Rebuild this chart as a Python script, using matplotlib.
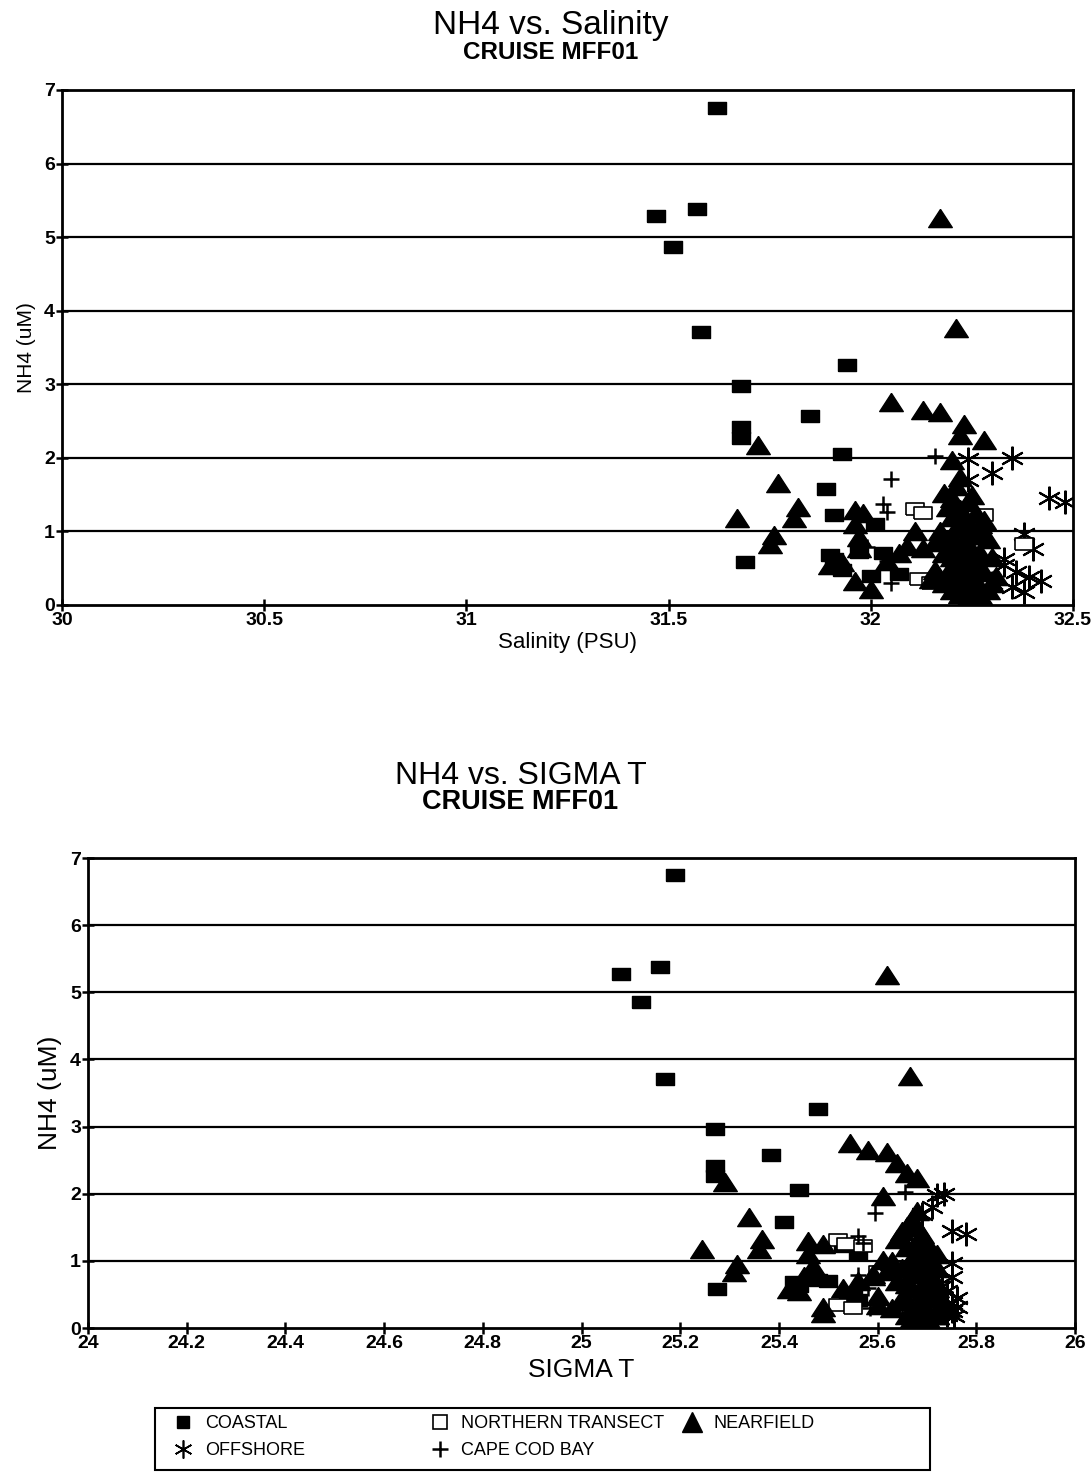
import matplotlib
matplotlib.use("Agg")
import matplotlib.pyplot as plt
from matplotlib.lines import Line2D
from matplotlib.patches import Rectangle

FONT = ['Liberation Sans Narrow', 'Liberation Sans', 'DejaVu Sans']
plt.rcParams['font.family'] = FONT

# ---- data: (salinity PSU, sigma-t, NH4 uM) for each station group ----
coastal_sal = [31.62, 31.47, 31.57, 31.51, 31.58, 31.68, 31.68, 31.68, 31.85, 31.94, 31.93,
               31.89, 31.91, 31.69, 31.90, 31.91, 31.93, 31.97, 32.01, 32.00, 32.03, 32.07]
coastal_sig = [25.19, 25.08, 25.16, 25.12, 25.17, 25.27, 25.27, 25.27, 25.385, 25.48, 25.44,
               25.41, 25.53, 25.275, 25.43, 25.44, 25.55, 25.48, 25.56, 25.54, 25.50, 25.56]
coastal_nh4 = [6.75, 5.28, 5.38, 4.86, 3.71, 2.97, 2.42, 2.27, 2.57, 3.26, 2.05,
               1.58, 1.22, 0.58, 0.68, 0.62, 0.48, 0.72, 1.10, 0.40, 0.70, 0.42]

northern_sal = [32.11, 32.13, 32.28, 32.38, 32.12, 32.15]
northern_sig = [25.52, 25.535, 25.57, 25.60, 25.52, 25.55]
northern_nh4 = [1.31, 1.25, 1.22, 0.83, 0.35, 0.30]

offshore_sal = [32.24, 32.35, 32.30, 32.24, 32.44, 32.48, 32.38, 32.40, 32.33, 32.36, 32.39,
                32.42, 32.30, 32.35, 32.27, 32.33, 32.38]
offshore_sig = [25.72, 25.735, 25.71, 25.69, 25.75, 25.78, 25.75, 25.75, 25.74, 25.76, 25.75,
                25.76, 25.73, 25.75, 25.74, 25.73, 25.755]
offshore_nh4 = [1.98, 2.00, 1.80, 1.70, 1.45, 1.40, 0.97, 0.76, 0.55, 0.45, 0.38,
                0.32, 0.30, 0.25, 0.20, 0.62, 0.18]

capecod_sal = [32.16, 32.05, 32.03, 32.04, 31.99, 32.05, 32.04, 32.20]
capecod_sig = [25.655, 25.595, 25.56, 25.57, 25.56, 25.585, 25.58, 25.65]
capecod_nh4 = [2.02, 1.71, 1.37, 1.26, 0.79, 0.30, 0.60, 0.20]

nearfield_sal = [32.17, 32.21, 32.05, 32.13, 32.17, 32.23, 32.22, 32.28, 31.72, 32.20, 31.77,
                 31.82, 31.81, 31.67, 31.76, 31.75, 32.22,
                 31.96, 31.98, 31.96, 31.97, 31.97, 31.93, 31.90, 31.96, 32.00, 32.04, 32.07,
                 32.09, 32.11, 32.13, 32.16, 32.15, 32.18, 32.19, 32.21, 32.20,
                 32.20, 32.22, 32.24, 32.26, 32.28, 32.21, 32.23, 32.25, 32.27, 32.29, 32.19,
                 32.21, 32.23, 32.25, 32.27, 32.30, 32.18, 32.20, 32.22, 32.24, 32.26, 32.28,
                 32.31, 32.19, 32.21, 32.23, 32.25, 32.27, 32.29, 32.20, 32.22, 32.24, 32.26,
                 32.28, 32.23, 32.25, 32.27, 32.24, 32.26, 32.22, 32.30, 32.24, 32.18, 32.17,
                 32.16]
nearfield_sig = [25.62, 25.665, 25.545, 25.58, 25.62, 25.64, 25.66, 25.68, 25.29, 25.61, 25.34,
                 25.365, 25.36, 25.245, 25.315, 25.31, 25.68,
                 25.46, 25.49, 25.46, 25.47, 25.45, 25.42, 25.44, 25.49, 25.49, 25.53, 25.56,
                 25.59, 25.61, 25.59, 25.60, 25.60, 25.66, 25.64, 25.67, 25.65,
                 25.66, 25.68, 25.69, 25.70, 25.71, 25.67, 25.68, 25.69, 25.70, 25.72, 25.65,
                 25.67, 25.68, 25.70, 25.71, 25.72, 25.64, 25.66, 25.67, 25.69, 25.70, 25.71,
                 25.73, 25.65, 25.66, 25.68, 25.69, 25.70, 25.72, 25.66, 25.67, 25.68, 25.70,
                 25.71, 25.70, 25.68, 25.72, 25.71, 25.72, 25.70, 25.74, 25.72, 25.63, 25.63,
                 25.62]
nearfield_nh4 = [5.26, 3.76, 2.76, 2.65, 2.62, 2.46, 2.31, 2.24, 2.17, 1.97, 1.66,
                 1.33, 1.18, 1.18, 0.95, 0.83, 1.74,
                 1.29, 1.25, 1.10, 0.92, 0.78, 0.58, 0.55, 0.32, 0.22, 0.60, 0.70,
                 0.80, 1.01, 0.77, 0.48, 0.35, 1.52, 1.33, 1.62, 1.45,
                 1.20, 1.30, 1.40, 1.25, 1.15, 1.05, 1.10, 1.00, 0.95, 0.90, 0.90,
                 0.85, 0.80, 0.75, 0.70, 0.65, 0.70, 0.65, 0.60, 0.55, 0.50, 0.45,
                 0.40, 0.45, 0.40, 0.35, 0.30, 0.25, 0.20, 0.20, 0.15, 0.10, 0.12,
                 0.05, 1.20, 1.50, 1.10, 0.95, 0.60, 0.50, 0.30, 0.20, 0.30, 1.00,
                 0.85]

labels = ['COASTAL', 'OFFSHORE', 'NORTHERN TRANSECT', 'CAPE COD BAY', 'NEARFIELD']

# marker shapes: wide filled rectangle, flat triangle, 6-arm asterisk
RECT = [(-1.5, -1), (1.5, -1), (1.5, 1), (-1.5, 1), (-1.5, -1)]
TRI = [(0, 1), (-1.3, -1), (1.3, -1), (0, 1)]
ASTER = (6, 2, 0)


def draw_groups(ax, key):
    groups = [
        (coastal_sal, coastal_sig, coastal_nh4, dict(marker=RECT, ms=13, mfc='black', mec='black')),
        (offshore_sal, offshore_sig, offshore_nh4, dict(marker=ASTER, ms=17, mec='black', mew=1.5)),
        (northern_sal, northern_sig, northern_nh4, dict(marker=RECT, ms=13, mfc='white', mec='black', mew=1.2)),
        (capecod_sal, capecod_sig, capecod_nh4, dict(marker='+', ms=12, mec='black', mew=1.8)),
        (nearfield_sal, nearfield_sig, nearfield_nh4, dict(marker=TRI, ms=17, mfc='black', mec='black')),
    ]
    for sal, sig, nh4, style in groups:
        x = sal if key == 'sal' else sig
        ax.plot(x, nh4, linestyle='none', **style)


def style_axes(ax, xlim, xticks, xticklabels):
    ax.set_xlim(*xlim)
    ax.set_ylim(0, 7)
    ax.set_xticks(xticks)
    ax.set_xticklabels(xticklabels)
    ax.set_yticks(range(8))
    for y in range(1, 7):
        ax.axhline(y, color='black', lw=1.6, zorder=0)
    for s in ax.spines.values():
        s.set_linewidth(2)
    ax.tick_params(direction='inout', length=8, width=1.8, labelsize=14, pad=1)
    for t in ax.get_xticklabels() + ax.get_yticklabels():
        t.set_fontweight('bold')


fig = plt.figure(figsize=(10.91, 14.72), dpi=100)

# top panel: NH4 vs salinity
ax1 = fig.add_axes([0.0568, 0.589, 0.9267, 0.3499])
draw_groups(ax1, 'sal')
style_axes(ax1, (30, 32.5), [30, 30.5, 31, 31.5, 32, 32.5],
           ['30', '30.5', '31', '31.5', '32', '32.5'])
ax1.set_xlabel('Salinity (PSU)', fontsize=16, labelpad=2)
ax1.set_ylabel('NH4 (uM)', fontsize=15, labelpad=6)
fig.text(0.505, 0.983, 'NH4 vs. Salinity', ha='center', va='center', fontsize=24)
fig.text(0.505, 0.964, 'CRUISE MFF01', ha='center', va='center', fontsize=17.5, fontweight='bold')

# bottom panel: NH4 vs sigma-t
ax2 = fig.add_axes([0.0807, 0.0978, 0.9046, 0.3193])
draw_groups(ax2, 'sig')
style_axes(ax2, (24, 26), [24, 24.2, 24.4, 24.6, 24.8, 25, 25.2, 25.4, 25.6, 25.8, 26],
           ['24', '24.2', '24.4', '24.6', '24.8', '25', '25.2', '25.4', '25.6', '25.8', '26'])
ax2.set_xlabel('SIGMA T', fontsize=19, labelpad=4)
ax2.set_ylabel('NH4 (uM)', fontsize=19, labelpad=6)
fig.text(0.477, 0.473, 'NH4 vs. SIGMA T', ha='center', va='center', fontsize=23)
fig.text(0.477, 0.455, 'CRUISE MFF01', ha='center', va='center', fontsize=19.5, fontweight='bold')

# legend: three columns inside one rectangular frame
h_coastal = Line2D([], [], ls='none', marker='s', ms=9, mfc='black', mec='black')
h_offshore = Line2D([], [], ls='none', marker=ASTER, ms=13, mec='black', mew=1.2)
h_northern = Line2D([], [], ls='none', marker='s', ms=10, mfc='white', mec='black', mew=1.2)
h_capecod = Line2D([], [], ls='none', marker='+', ms=12, mec='black', mew=1.8)
h_nearfield = Line2D([], [], ls='none', marker='^', ms=15, mfc='black', mec='black')

leg_kw = dict(loc='upper left', frameon=False, fontsize=13, handletextpad=0.6,
              labelspacing=0.55, handlelength=1.2, borderpad=0, borderaxespad=0)
fig.legend([h_coastal, h_offshore], labels[:2], bbox_to_anchor=(0.158, 0.0385), **leg_kw)
fig.legend([h_northern, h_capecod], labels[2:4], bbox_to_anchor=(0.393, 0.0385), **leg_kw)
fig.legend([h_nearfield], labels[4:], bbox_to_anchor=(0.624, 0.0385), **leg_kw)
fig.add_artist(Rectangle((0.142, 0.0014), 0.710, 0.042, transform=fig.transFigure,
                         fill=False, ec='black', lw=1.5))

fig.savefig('out.png', dpi=100)
